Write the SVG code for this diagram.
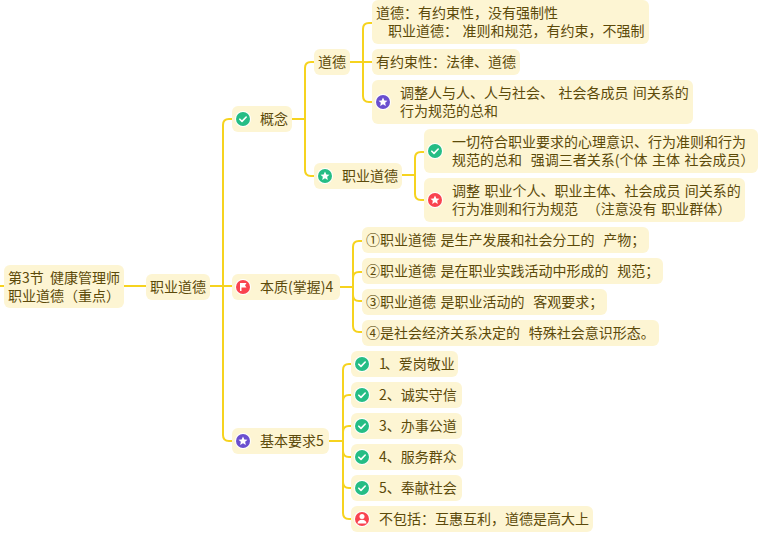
<svg xmlns="http://www.w3.org/2000/svg" width="764" height="547" viewBox="0 0 764 547">
<style>
text{font-family:"Noto Sans CJK SC","Noto Sans",sans-serif;font-size:14px;fill:#5c4a0a;white-space:pre;word-spacing:1.3px}
.b{fill:#fdf5d3}
.c{fill:none;stroke:#f6d31f;stroke-width:2;stroke-linecap:butt}
.r{fill:#fff}
.g{fill:#25bd85}.p{fill:#6a4fcf}.d{fill:#f9434f}
.k{fill:none;stroke:#fff;stroke-width:1.6;stroke-linecap:round;stroke-linejoin:round}
.w{fill:#fff}
</style>
<defs>
<g id="check"><circle r="8" class="r"/><circle r="7" class="g"/><path class="k" d="M-3.2 0.2L-1 2.4L3.2-2"/></g>
<path id="star" class="w" d="M0-4.6L1.35-1.6L4.5-1.3L2.15 0.8L2.8 3.9L0 2.3L-2.8 3.9L-2.15 0.8L-4.500-1.3L-1.35-1.6Z"/>
</defs>
<g id="connectors" class="c">
<path class="c" d="M0 286H4M124 286H146"/>
<path class="c" d="M210 286H232M232 119H229Q223 119 223 125V435Q223 441 229 441H232"/>
<path class="c" d="M292 119H305M314 62H311Q305 62 305 68V170Q305 176 311 176H314"/>
<path class="c" d="M350 62H372M372 23H369Q363 23 363 29V96Q363 102 369 102H372"/>
<path class="c" d="M402 175H415M424 152H421Q415 152 415 158V194Q415 200 421 200H424"/>
<path class="c" d="M340 287H353M362 241H359Q353 241 353 247V326Q353 332 359 332H362M353 278Q353 272 359 272H362M353 295Q353 301 359 301H362"/>
<path class="c" d="M329 441H343M351 364H349Q343 364 343 370V513Q343 519 349 519H351M343 401Q343 395 349 395H351M343 432Q343 426 349 426H351M343 451Q343 457 349 457H351M343 482Q343 488 349 488H351"/>
</g>
<g id="root"><rect class="b" x="4" y="265" width="120" height="43" rx="6"/><text x="8" y="283" style="word-spacing:3px">第3节 健康管理师</text><text x="8" y="301">职业道德（重点）</text></g>
<g id="n-zyde"><rect class="b" x="146" y="274" width="64" height="26" rx="6"/><text x="150" y="292">职业道德</text></g>
<g id="n-gainian"><rect class="b" x="232" y="106" width="60" height="26" rx="6"/><use href="#check" x="243" y="119"/><text x="260" y="124">概念</text></g>
<g id="n-daode"><rect class="b" x="314" y="49" width="36" height="26" rx="6"/><text x="318" y="67">道德</text></g>
<g id="n-a"><rect class="b" x="372" y="0" width="277" height="44" rx="6"/><text x="376" y="18">道德：有约束性，没有强制性</text><text x="388" y="36">职业道德： 准则和规范，有约束，不强制</text></g>
<g id="n-b"><rect class="b" x="372" y="49" width="148" height="26" rx="6"/><text x="376" y="67">有约束性：法律、道德</text></g>
<g id="n-c"><rect class="b" x="372" y="80" width="321" height="44" rx="6"/><circle cx="383" cy="102" r="8" class="r"/><circle cx="383" cy="102" r="7" class="p"/><use href="#star" x="383" y="102"/><text x="400" y="98">调整人与人、人与社会、 社会各成员 间关系的</text><text x="400" y="116">行为规范的总和</text></g>
<g id="n-zy2"><rect class="b" x="314" y="163" width="88" height="26" rx="6"/><circle cx="325" cy="176" r="8" class="r"/><circle cx="325" cy="176" r="7" class="g"/><use href="#star" x="325" y="176"/><text x="342" y="181">职业道德</text></g>
<g id="n-d"><rect class="b" x="424" y="129" width="334" height="44" rx="6"/><use href="#check" x="435" y="151"/><text x="452" y="147">一切符合职业要求的心理意识、行为准则和行为</text><text x="452" y="165">规范的总和  强调三者关系(个体 主体 社会成员）</text></g>
<g id="n-e"><rect class="b" x="424" y="178" width="321" height="44" rx="6"/><circle cx="435" cy="200" r="8" class="r"/><circle cx="435" cy="200" r="7" class="d"/><use href="#star" x="435" y="200"/><text x="452" y="196">调整 职业个人、职业主体、社会成员 间关系的</text><text x="452" y="214">行为准则和行为规范  （注意没有 职业群体）</text></g>
<g id="n-benzhi"><rect class="b" x="232" y="274" width="108" height="26" rx="6"/><circle cx="243" cy="287" r="8" class="r"/><circle cx="243" cy="287" r="7" class="d"/><path class="w" d="M240 283H246.500L245 285.300L246.500 287.600H241.500V291H240Z"/><text x="260" y="292">本质(掌握)4</text></g>
<g id="n-1"><rect class="b" x="362" y="227" width="287" height="26" rx="6"/><text x="366" y="245">①职业道德 是生产发展和社会分工的  产物；</text></g>
<g id="n-2"><rect class="b" x="362" y="258" width="301" height="26" rx="6"/><text x="366" y="276">②职业道德 是在职业实践活动中形成的  规范；</text></g>
<g id="n-3"><rect class="b" x="362" y="289" width="245" height="26" rx="6"/><text x="366" y="307">③职业道德 是职业活动的  客观要求；</text></g>
<g id="n-4"><rect class="b" x="362" y="320" width="297" height="26" rx="6"/><text x="366" y="338">④是社会经济关系决定的  特殊社会意识形态。</text></g>
<g id="n-jiben"><rect class="b" x="232" y="428" width="97" height="26" rx="6"/><circle cx="243" cy="441" r="8" class="r"/><circle cx="243" cy="441" r="7" class="p"/><use href="#star" x="243" y="441"/><text x="260" y="446">基本要求5</text></g>
<g id="i-1"><rect class="b" x="351" y="351" width="107" height="26" rx="6"/><use href="#check" x="362" y="364"/><text x="379" y="369">1<tspan dx="-2">、爱岗敬业</tspan></text></g>
<g id="i-2"><rect class="b" x="351" y="382" width="111" height="26" rx="6"/><use href="#check" x="362" y="395"/><text x="379" y="400">2、诚实守信</text></g>
<g id="i-3"><rect class="b" x="351" y="413" width="111" height="26" rx="6"/><use href="#check" x="362" y="426"/><text x="379" y="431">3、办事公道</text></g>
<g id="i-4"><rect class="b" x="351" y="444" width="112" height="26" rx="6"/><use href="#check" x="362" y="457"/><text x="379" y="462">4、服务群众</text></g>
<g id="i-5"><rect class="b" x="351" y="475" width="111" height="26" rx="6"/><use href="#check" x="362" y="488"/><text x="379" y="493">5、奉献社会</text></g>
<g id="i-6"><rect class="b" x="351" y="506" width="242" height="26" rx="6"/><circle cx="362" cy="519" r="8" class="r"/><circle cx="362" cy="519" r="7" class="d"/><circle cx="362" cy="516.500" r="2.500" class="w"/><path class="w" d="M357.500 523.500Q358 519.800 362 519.800Q366 519.800 366.500 523.500Z"/><text x="379" y="524">不包括：互惠互利，道德是高大上</text></g>
</svg>
